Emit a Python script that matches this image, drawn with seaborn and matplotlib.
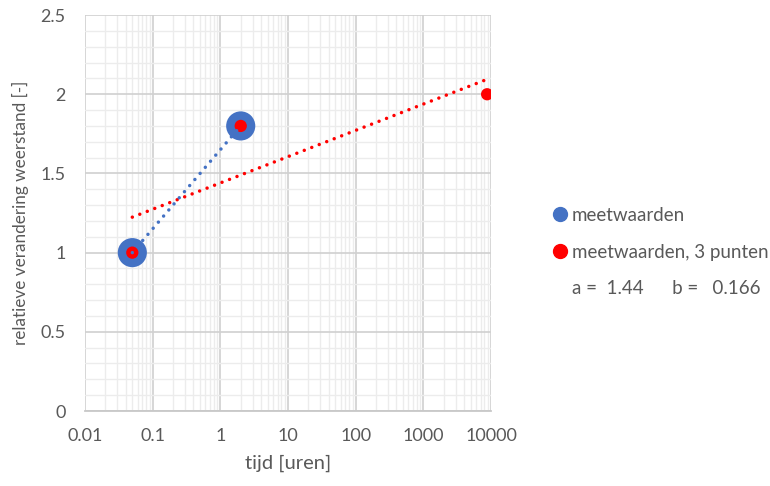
import numpy as np
import pandas as pd
import matplotlib
matplotlib.use("Agg")
import matplotlib.pyplot as plt
import seaborn as sns
from matplotlib.lines import Line2D

# Measured data (time in hours, relative change in resistance)
tijd_meet = [0.05, 2.0]
waarde_meet = [1.0, 1.8]
tijd_3p = [0.05, 2.0, 8760.0]
waarde_3p = [1.0, 1.8, 2.0]

# Logarithmic fit coefficients: y = a + b*log10(t)
coef_a = 1.44
coef_b = 0.166

x_ticks = [0.01, 0.1, 1, 10, 100, 1000, 10000]
x_ticklabels = ["0.01", "0.1", "1", "10", "100", "1000", "10000"]
y_ticks = [0, 0.5, 1, 1.5, 2, 2.5]
y_ticklabels = ["0", "0.5", "1", "1.5", "2", "2.5"]

sns.set_theme(style="white")
plt.rcParams["font.family"] = ["Lato", "DejaVu Sans"]

txt = "#595959"
blue = "#4472C4"
red = "#FF0000"

fig = plt.figure(figsize=(7.7, 4.86), dpi=100)
ax = fig.add_axes([0.1104, 0.1543, 0.5273, 0.8147])

ax.set_xscale("log")
ax.set_xlim(0.01, 10000)
ax.set_ylim(0, 2.5)

# Grid: major and minor lines
ax.set_yticks(y_ticks)
ax.set_yticks(np.arange(0, 2.51, 0.1), minor=True)
ax.set_xticks(x_ticks)
ax.xaxis.set_minor_locator(matplotlib.ticker.LogLocator(base=10, subs=np.arange(2, 10)))
ax.xaxis.set_minor_formatter(matplotlib.ticker.NullFormatter())
ax.grid(which="minor", color="#ececec", linewidth=1.0, zorder=0)
ax.grid(which="major", color="#d0d0d0", linewidth=1.2, zorder=0)
ax.set_axisbelow(True)

for s in ["top", "right", "left"]:
    ax.spines[s].set_visible(False)
ax.spines["bottom"].set_color("#c8c8c8")
ax.spines["bottom"].set_linewidth(1.3)

ax.set_xticklabels(x_ticklabels)
ax.set_yticklabels(y_ticklabels)
ax.tick_params(axis="both", which="both", length=0, colors=txt, labelsize=13)
ax.tick_params(axis="x", pad=12)
ax.tick_params(axis="y", pad=14)

# Data points
df_meet = pd.DataFrame({"tijd": tijd_meet, "waarde": waarde_meet})
df_3p = pd.DataFrame({"tijd": tijd_3p, "waarde": waarde_3p})
sns.scatterplot(data=df_meet, x="tijd", y="waarde", ax=ax, s=440, color=blue,
                edgecolor="none", zorder=3, legend=False)
sns.scatterplot(data=df_3p, x="tijd", y="waarde", ax=ax, s=78, color=red,
                edgecolor="none", zorder=4, legend=False)

# Trendlines (round dotted)
dots = (0, (0.01, 2.3))
t_fit = np.logspace(np.log10(tijd_3p[0]), np.log10(tijd_3p[-1]), 50)
df_fit = pd.DataFrame({"tijd": t_fit, "waarde": coef_a + coef_b * np.log10(t_fit)})
sns.lineplot(data=df_fit, x="tijd", y="waarde", ax=ax, color=red, linewidth=2.5,
             linestyle=dots, dash_capstyle="round", zorder=5)
sns.lineplot(data=df_meet, x="tijd", y="waarde", ax=ax, color=blue, linewidth=2.5,
             linestyle=dots, dash_capstyle="round", zorder=5)

ax.set_xlabel("tijd [uren]", color=txt, fontsize=14.5, labelpad=8)
ax.set_ylabel("relatieve verandering weerstand [-]", color=txt, fontsize=12.3, labelpad=8)

# Legend
handles = [
    Line2D([], [], marker="o", linestyle="none", markersize=10, color=blue),
    Line2D([], [], marker="o", linestyle="none", markersize=10, color=red),
    Line2D([], [], linestyle="none"),
]
labels = ["meetwaarden", "meetwaarden, 3 punten", "a =  1.44      b =   0.166"]
leg = fig.legend(handles, labels, loc="center left", bbox_to_anchor=(0.694, 0.481),
                 frameon=False, fontsize=13.5, handletextpad=0.2, labelspacing=1.05,
                 handlelength=0.9, labelcolor=txt)

fig.savefig("out.png", dpi=100)
